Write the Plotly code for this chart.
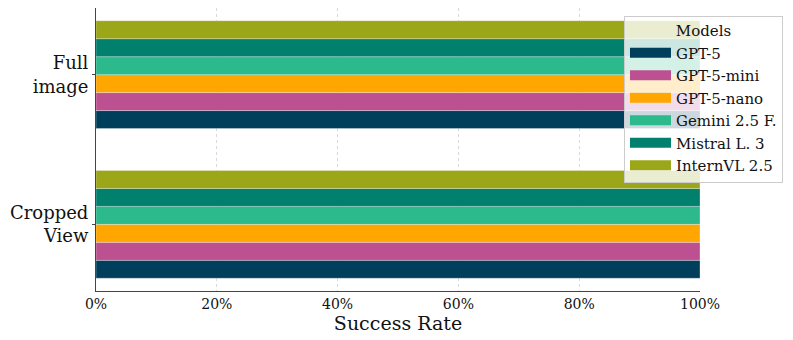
import plotly.graph_objects as go

# Данные: доля успешных ответов по моделям
categories = ["Cropped View", "Full image"]
category_labels = ["Cropped<br>View", "Full<br>image"]
models = ["GPT-5", "GPT-5-mini", "GPT-5-nano", "Gemini 2.5 F.", "Mistral L. 3", "InternVL 2.5"]
colors = ["#003f5c", "#bc5090", "#ffa600", "#2cb98b", "#00806d", "#9ba718"]
success = {
    "GPT-5": [100, 100],
    "GPT-5-mini": [100, 100],
    "GPT-5-nano": [100, 100],
    "Gemini 2.5 F.": [100, 100],
    "Mistral L. 3": [100, 100],
    "InternVL 2.5": [100, 100],
}
x_ticks = [0, 20, 40, 60, 80, 100]
x_tick_labels = ["0%", "20%", "40%", "60%", "80%", "100%"]

fig = go.Figure()

for m, c in zip(models, colors):
    fig.add_trace(go.Bar(
        y=categories,
        x=success[m],
        orientation='h',
        name=m,
        legendgroup=m,
        showlegend=False,
        marker=dict(color=c, line=dict(color="rgba(255,255,255,0.6)", width=0.5)),
    ))
    # широкий прямоугольник в легенде, как в matplotlib
    fig.add_trace(go.Scatter(
        x=[None], y=[None],
        mode='lines',
        name=m,
        legendgroup=m,
        line=dict(color=c, width=12),
        hoverinfo='skip',
    ))

font = "DejaVu Serif"

# у страницы отступ body 8px, поэтому фигура чуть меньше окна
fig.update_layout(
    width=785, height=332,
    margin=dict(l=88, r=93, t=0, b=49, autoexpand=False),
    paper_bgcolor="white",
    plot_bgcolor="white",
    barmode='group',
    bargap=0.28,
    bargroupgap=0,
    font=dict(family=font, color="#111"),
    showlegend=True,
    legend=dict(
        title=dict(text="Models", side="top center", font=dict(size=15, family=font)),
        font=dict(size=15, family=font),
        x=1.1374, xanchor="right",
        y=0.972, yanchor="top",
        bgcolor="rgba(255,255,255,0.8)",
        bordercolor="#cccccc",
        borderwidth=1,
        traceorder="normal",
        tracegroupgap=0,
        itemwidth=41,
    ),
    xaxis=dict(
        range=[0, 100],
        tickvals=x_ticks,
        ticktext=x_tick_labels,
        tickfont=dict(size=14, family=font),
        title=dict(text="Success Rate", font=dict(size=19, family=font), standoff=3),
        showgrid=True,
        gridcolor="rgba(0,0,0,0.15)",
        griddash="dot",
        gridwidth=1,
        showline=True,
        linecolor="#444",
        linewidth=1,
        ticks="",
        zeroline=False,
        automargin=True,
    ),
    yaxis=dict(
        type="category",
        categoryorder="array",
        categoryarray=categories,
        tickvals=categories,
        ticktext=category_labels,
        range=[-0.445, 1.445],
        tickfont=dict(size=18, family=font),
        showgrid=False,
        showline=True,
        linecolor="#444",
        linewidth=1,
        ticks="outside",
        ticklen=3,
        tickcolor="#444",
        zeroline=False,
        automargin=False,
    ),
)

fig.write_html("out.html")
